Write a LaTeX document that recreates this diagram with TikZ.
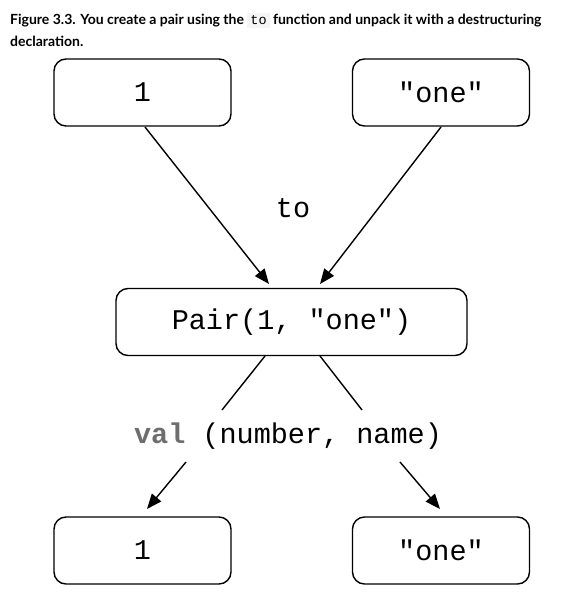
\documentclass[tikz,border=0pt]{standalone}
\usepackage{fontspec}
\setmainfont{Lato}
\newfontfamily\codefont{Liberation Mono}
\usetikzlibrary{arrows.meta}
\definecolor{codebg}{RGB}{245,245,245}
\definecolor{valgray}{RGB}{110,110,110}
\begin{document}
\begin{tikzpicture}[x=1pt,y=-1pt,
  box/.style={draw, line width=1.4pt, rounded corners=12pt, minimum height=67pt, inner sep=0pt, font=\codefont\fontsize{28.5}{31}\selectfont},
  smallbox/.style={box, minimum width=177pt},
  arr/.style={line width=1.4pt, -{Triangle[length=15pt,width=12pt]}},
  ln/.style={line width=1.4pt},
  code/.style={font=\codefont\fontsize{28.5}{31}\selectfont, inner sep=0pt}]
\useasboundingbox (0,0) rectangle (569,599);
\node[anchor=base west, inner sep=0pt, font=\bfseries\fontsize{14}{16}\selectfont] (cap1) at (10,25)
  {Figure 3.3. You create a pair using the \colorbox{codebg}{\mdseries\codefont\fontsize{13.5}{15}\selectfont to} function and unpack it with a destructuring};
\node[anchor=base west, inner sep=0pt, font=\bfseries\fontsize{14}{16}\selectfont] (cap2) at (10,47) {declaration.};
\node[smallbox] (one) at (142.5,92.5) {1};
\node[smallbox] (strone) at (441,92.5) {"one"};
\node[box, minimum width=351pt] (pair) at (291.5,322) {Pair(1, "one")};
\node[code] (to) at (293,208) {to};
\node[code] (val) at (288,436) {\textcolor{valgray}{\bfseries val} (number, name)};
\node[smallbox] (one2) at (142.5,550.5) {1};
\node[smallbox] (strone2) at (441,550.5) {"one"};
\coordinate (a1s) at (145,127);
\coordinate (a1e) at (269,284);
\coordinate (a2s) at (441,127);
\coordinate (a2e) at (320,284);
\draw[arr] (a1s) -- (a1e);
\draw[arr] (a2s) -- (a2e);
\coordinate (l1s) at (265,356);
\coordinate (l1e) at (222,410);
\coordinate (l2s) at (320,356);
\coordinate (l2e) at (362,410);
\draw[ln] (l1s) -- (l1e);
\draw[ln] (l2s) -- (l2e);
\coordinate (b1s) at (186,462);
\coordinate (b1e) at (147,509);
\coordinate (b2s) at (400,462);
\coordinate (b2e) at (440,509);
\draw[arr] (b1s) -- (b1e);
\draw[arr] (b2s) -- (b2e);
\end{tikzpicture}
\end{document}
